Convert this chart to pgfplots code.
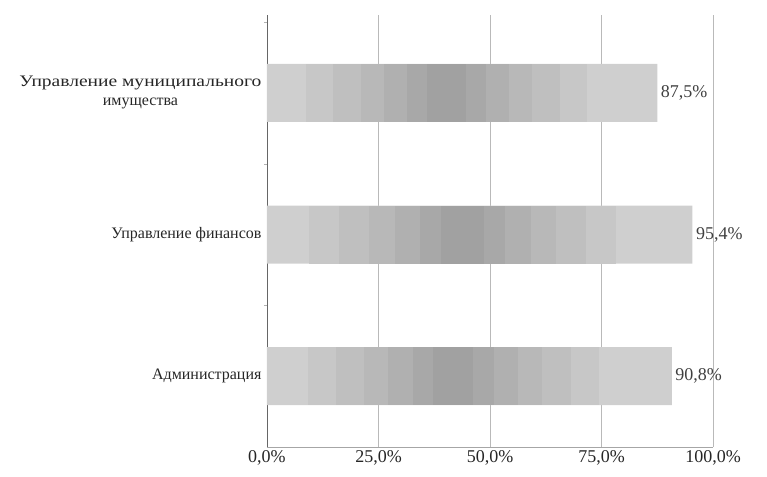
\documentclass[border=0pt]{standalone}
\usepackage{fontspec}
\setmainfont{Liberation Serif}
\newfontfamily\widefont[FakeStretch=1.22]{Liberation Serif}
\usepackage{pgfplots}
\pgfplotsset{compat=1.18}
\pgfplotsset{band/.style={draw=none, fill=#1, forget plot}}
\begin{document}
\begin{tikzpicture}
\path[use as bounding box] (-267bp,-30bp) rectangle (500bp,447bp);
\begin{axis}[
  scale only axis,
  width=446bp, height=432bp,
  at={(0,0)}, anchor=south west,
  xmin=0, xmax=100,
  ymin=-0.5, ymax=2.55,
  xtick={0,25,50,75,100},
  xticklabels={{0,0\%},{25,0\%},{50,0\%},{75,0\%},{100,0\%}},
  ytick={0,1,2},
  yticklabels={Администрация,Управление финансов,{{\widefont\fontsize{16bp}{19bp}\selectfont Управление муниципального}\\имущества}},
  yticklabel style={align=center, font=\fontsize{16bp}{19bp}\selectfont, text=black!85, xshift=-2bp},
  xticklabel style={font=\fontsize{18bp}{20bp}\selectfont, text=black!85},
  minor ytick={0.5,1.5,2.5},
  major tick length=0pt,
  minor tick length=3bp,
  tick align=outside,
  minor tick style={gray!60},
  xmajorgrids, grid style={gray!55, line width=0.6bp},
  axis x line*=bottom, axis y line*=left,
  x axis line style={gray!70, line width=0.8bp, -},
  y axis line style={gray!80!black, line width=0.8bp, -},
  clip=false,
]
% main bars with value labels
\addplot[xbar, bar width=58bp, draw=none, fill=gray!38,
  nodes near coords={\pgfmathprintnumber[fixed, fixed zerofill, precision=1, use comma, assume math mode=true]{\pgfplotspointmeta}\%},
  nodes near coords style={font=\fontsize{18bp}{20bp}\selectfont, text=black!75}]
  coordinates {(90.8,0) (95.4,1) (87.5,2)};
% shading bands (darker toward the middle of each bar)
\addplot[band=gray!44] coordinates {(9.1,-0.205) (74.5,-0.205) (74.5,0.205) (9.1,0.205)} -- cycle;
\addplot[band=gray!50] coordinates {(15.4,-0.205) (68.1,-0.205) (68.1,0.205) (15.4,0.205)} -- cycle;
\addplot[band=gray!56] coordinates {(21.8,-0.205) (61.7,-0.205) (61.7,0.205) (21.8,0.205)} -- cycle;
\addplot[band=gray!62] coordinates {(27.2,-0.205) (56.3,-0.205) (56.3,0.205) (27.2,0.205)} -- cycle;
\addplot[band=gray!68] coordinates {(32.7,-0.205) (50.8,-0.205) (50.8,0.205) (32.7,0.205)} -- cycle;
\addplot[band=gray!74] coordinates {(37.2,-0.205) (46.3,-0.205) (46.3,0.205) (37.2,0.205)} -- cycle;
\addplot[band=gray!44] coordinates {(9.5,0.795) (78.2,0.795) (78.2,1.205) (9.5,1.205)} -- cycle;
\addplot[band=gray!50] coordinates {(16.2,0.795) (71.6,0.795) (71.6,1.205) (16.2,1.205)} -- cycle;
\addplot[band=gray!56] coordinates {(22.9,0.795) (64.9,0.795) (64.9,1.205) (22.9,1.205)} -- cycle;
\addplot[band=gray!62] coordinates {(28.6,0.795) (59.1,0.795) (59.1,1.205) (28.6,1.205)} -- cycle;
\addplot[band=gray!68] coordinates {(34.3,0.795) (53.4,0.795) (53.4,1.205) (34.3,1.205)} -- cycle;
\addplot[band=gray!74] coordinates {(39.1,0.795) (48.7,0.795) (48.7,1.205) (39.1,1.205)} -- cycle;
\addplot[band=gray!44] coordinates {(8.8,1.795) (71.8,1.795) (71.8,2.205) (8.8,2.205)} -- cycle;
\addplot[band=gray!50] coordinates {(14.9,1.795) (65.6,1.795) (65.6,2.205) (14.9,2.205)} -- cycle;
\addplot[band=gray!56] coordinates {(21.0,1.795) (59.5,1.795) (59.5,2.205) (21.0,2.205)} -- cycle;
\addplot[band=gray!62] coordinates {(26.3,1.795) (54.3,1.795) (54.3,2.205) (26.3,2.205)} -- cycle;
\addplot[band=gray!68] coordinates {(31.5,1.795) (49.0,1.795) (49.0,2.205) (31.5,2.205)} -- cycle;
\addplot[band=gray!74] coordinates {(35.9,1.795) (44.6,1.795) (44.6,2.205) (35.9,2.205)} -- cycle;
\end{axis}
\end{tikzpicture}
\end{document}
